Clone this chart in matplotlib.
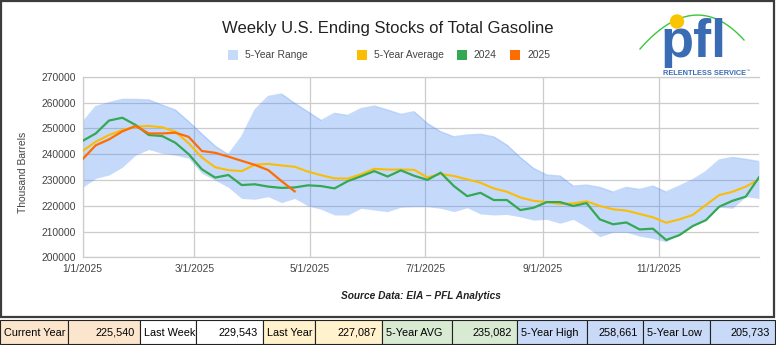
import numpy as np
import pandas as pd
import matplotlib
matplotlib.use("Agg")
import matplotlib.pyplot as plt
from matplotlib.patches import Rectangle, Circle
from matplotlib.ticker import FuncFormatter

plt.rcParams['font.family'] = ['Liberation Sans', 'DejaVu Sans']

# ---------------- data (thousand barrels, weekly) ----------------
weeks = pd.date_range('2025-01-01', periods=52, freq='7D')

high_5yr = [252200, 258400, 259900, 261200, 261200, 261000, 259000, 257100, 252600, 247800,
            243100, 239800, 246700, 257100, 262300, 263300, 259700, 256400, 253000, 255800,
            255000, 257600, 258600, 257100, 255400, 256400, 251900, 248700, 246700, 247400,
            247700, 246700, 243500, 238700, 234500, 231900, 231500, 227600, 228000, 227100,
            225300, 227100, 226300, 227600, 225300, 227600, 230000, 233200, 237700, 238700,
            238000, 237100]
low_5yr = [227100, 230600, 231900, 234900, 239600, 241800, 240300, 239600, 238400, 232500,
           229900, 227100, 222800, 222500, 223500, 221200, 222800, 219900, 218600, 216400,
           216400, 219000, 218300, 217700, 219400, 219600, 219600, 219000, 217700, 219200,
           216800, 216400, 216600, 215700, 214400, 214700, 213200, 214700, 211700, 208000,
           209700, 209700, 208200, 207300, 206000, 209300, 212500, 214700, 219400, 219000,
           223500, 222800]
avg_5yr = [241200, 244800, 247400, 249300, 250600, 250900, 250400, 248700, 244200, 238700,
           234900, 233800, 233400, 235900, 236200, 235600, 235100, 233200, 231800, 230600,
           230500, 232200, 234300, 234000, 234000, 233900, 231000, 232300, 231500, 230200,
           228900, 226700, 225400, 223200, 221900, 221400, 220700, 220900, 221700, 219900,
           218600, 218100, 216800, 215500, 213400, 214700, 216400, 220300, 224100, 225400,
           227400, 230200]
y2024 = [245100, 248000, 253000, 254100, 251300, 247400, 247000, 244400, 240000, 234100,
         230900, 231900, 228000, 228300, 227400, 226900, 227087, 227900, 227600, 226700,
         229500, 231400, 233400, 231300, 233700, 231600, 230000, 232800, 227600, 223700,
         225000, 222200, 222200, 218300, 219200, 221400, 221400, 219900, 221000, 214700,
         212800, 213500, 210800, 211100, 206700, 208600, 212100, 214400, 219600, 221900,
         223500, 231000]
y2025 = [238000, 243400, 245700, 248800, 250900, 248000, 248000, 248300, 246700, 241200,
         240500, 239000, 237400, 235800, 233800, 229543, 225540]

series_names = ['5-Year Range', '5-Year Average', '2024', '2025']
series_colors = ['#c6dafc', '#fbbc04', '#34a853', '#ff6d01']

tick_dates = ['2025-01-01', '2025-03-01', '2025-05-01', '2025-07-01', '2025-09-01', '2025-11-01']
y_ticks = [200000, 210000, 220000, 230000, 240000, 250000, 260000, 270000]

table_labels = ['Current Year', 'Last Week', 'Last Year', '5-Year AVG', '5-Year High', '5-Year Low']
table_values = ['225,540', '229,543', '227,087', '235,082', '258,661', '205,733']
table_fills = ['#fce5cd', '#ffffff', '#fff2cc', '#d9ead3', '#c9daf8', '#c9daf8']

title = 'Weekly U.S. Ending Stocks of Total Gasoline'
source = 'Source Data: EIA \u2013 PFL Analytics'

# ---------------- figure ----------------
W, H = 776, 345
fig = plt.figure(figsize=(W / 100, H / 100), dpi=100)

left, right, top, bottom = 82.5, 759, 76.7, 257.3
ax = fig.add_axes([left / W, 1 - bottom / H, (right - left) / W, (bottom - top) / H])
ax.set_facecolor('none')

grid_c = '#cccccc'
ax.fill_between(weeks, low_5yr, high_5yr, color='#4285f4', alpha=0.30, lw=0, zorder=2)
ax.plot(weeks, high_5yr, color='#4285f4', alpha=0.30, lw=1.0, zorder=2)
ax.plot(weeks, avg_5yr, color=series_colors[1], lw=1.5, zorder=3)
ax.plot(weeks, y2024, color=series_colors[2], lw=1.6, zorder=4)
ax.plot(weeks[:len(y2025)], y2025, color=series_colors[3], lw=1.6, zorder=5)

ax.set_ylim(200000, 270000)
ax.set_xlim(weeks[0], weeks[-1])
ax.set_yticks(y_ticks)
ax.yaxis.set_major_formatter(FuncFormatter(lambda v, p: f'{int(v)}'))
tds = pd.to_datetime(tick_dates)
ax.set_xticks(tds)
ax.set_xticklabels([f'{d.month}/{d.day}/{d.year}' for d in tds])
ax.grid(True, color=grid_c, lw=0.9, zorder=0)
ax.set_axisbelow(True)
ax.spines['right'].set_visible(False)
for s in ['left', 'bottom', 'top']:
    ax.spines[s].set_color(grid_c)
    ax.spines[s].set_linewidth(0.9)
ax.tick_params(length=0, labelsize=7.4, colors='#444444')
ax.tick_params(axis='y', pad=5)
ax.tick_params(axis='x', pad=5)
ax.set_ylabel('Thousand Barrels', fontsize=7.4, color='#444444')
ax.yaxis.set_label_coords((28 - left) / (right - left), 0.47)

# ---------------- overlay in pixel coordinates ----------------
ov = fig.add_axes([0, 0, 1, 1], zorder=5)
ov.set_xlim(0, W)
ov.set_ylim(H, 0)
ov.axis('off')
ov.patch.set_alpha(0)

# chart frame
ov.add_patch(Rectangle((1, 1), 773, 316, fill=False, ec='#3c3c3c', lw=1.6))

# title
ov.text(388, 28, title, ha='center', va='center', fontsize=12, color='#222222')

# legend
leg_sq = [228, 357, 457, 510]
for xq, name, col in zip(leg_sq, series_names, series_colors):
    ov.add_patch(Rectangle((xq, 50), 9.5, 10, color=col, lw=0))
    ov.text(xq + 17, 55.5, name, ha='left', va='center', fontsize=7.4, color='#444444')

# source
ov.text(421, 296, source, ha='center', va='center', fontsize=7.3,
        fontweight='bold', fontstyle='italic', color='#222222')

# logo
t = np.linspace(0, 1, 60)
p0, p1, p2 = np.array([640, 49]), np.array([695, -14]), np.array([744, 40])
curve = ((1 - t)[:, None] ** 2) * p0 + (2 * (1 - t) * t)[:, None] * p1 + (t[:, None] ** 2) * p2
ov.plot(curve[:, 0], curve[:, 1], color='#3cc63c', lw=1.0)
ov.text(660, 57.5, 'pfl', ha='left', va='baseline', fontsize=39, fontweight='bold',
        color='#3a6cb4')
ov.add_patch(Circle((677, 21.5), 7.2, color='#f9c400', lw=0, zorder=6))
ov.text(663, 73.5, 'RELENTLESS SERVICE', ha='left', va='center', fontsize=5.3,
        fontweight='bold', color='#3a6cb4')
ov.text(746, 71, '\u2122', ha='left', va='center', fontsize=3, color='#3a6cb4')

# table
edges = [0, 68, 140, 196, 263, 315, 382, 452, 517, 587, 643, 710, 775]
ty0, ty1 = 320, 344
for k in range(6):
    xa, xb, xc = edges[2 * k], edges[2 * k + 1], edges[2 * k + 2]
    for (u, v) in [(xa, xb), (xb, xc)]:
        ov.add_patch(Rectangle((u, ty0), v - u, ty1 - ty0, fc=table_fills[k], ec='#222222', lw=0.8))
    ov.text(xa + 4, (ty0 + ty1) / 2 + 0.5, table_labels[k], ha='left', va='center',
            fontsize=7.8, color='#000000')
    ov.text(xc - 5, (ty0 + ty1) / 2 + 0.5, table_values[k], ha='right', va='center',
            fontsize=7.8, color='#000000')

fig.savefig('out.png', dpi=100)
